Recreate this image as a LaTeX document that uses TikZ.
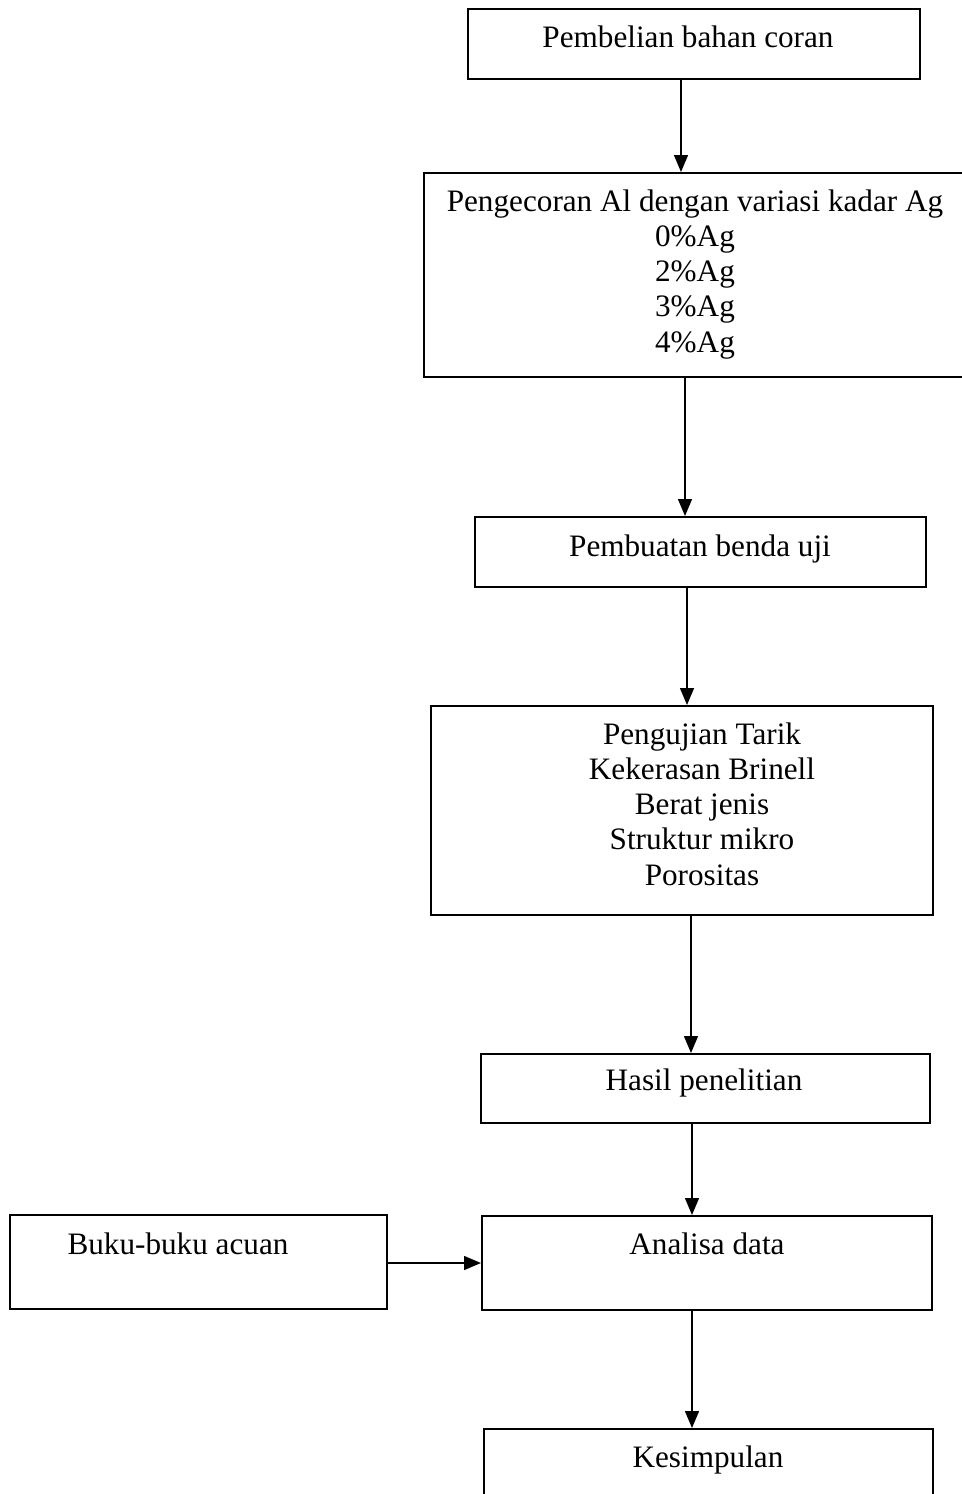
\documentclass[tikz,border=0pt]{standalone}
\usepackage{fontspec}
\setmainfont{Liberation Serif}
\usetikzlibrary{arrows.meta}
\begin{document}
\begin{tikzpicture}[x=0.5pt,y=-0.5pt,
  box/.style={draw, line width=0.8pt, inner sep=0pt, anchor=north west},
  lbl/.style={font=\fontsize{15.6}{17.6}\selectfont, inner sep=0pt, anchor=base, align=center},
  arr/.style={line width=0.7pt, -{Triangle[length=8.5pt,width=7pt]}}]
\useasboundingbox (0,0) rectangle (962,1494);
% boxes
\node[box, minimum width=226pt, minimum height=35pt] (b1) at (467,8) {};
\node[box, minimum width=272pt, minimum height=102pt] (b2) at (423,172) {};
\node[box, minimum width=225.5pt, minimum height=35pt] (b3) at (474,516) {};
\node[box, minimum width=251pt, minimum height=104.5pt] (b4) at (430,705) {};
\node[box, minimum width=224.5pt, minimum height=34.5pt] (b5) at (480,1053) {};
\node[box, minimum width=225pt, minimum height=47pt] (b6) at (481,1215) {};
\node[box, minimum width=188.5pt, minimum height=47pt] (b7) at (9,1214) {};
\node[box, minimum width=224.5pt, minimum height=50pt] (b8) at (483,1428) {};
% texts (multi-line nodes: base = last line's baseline)
\node[lbl] (t1) at (688,47) {Pembelian bahan coran};
\node[lbl] (t2) at (695,352) {Pengecoran Al dengan variasi kadar Ag\\0\%Ag\\2\%Ag\\3\%Ag\\4\%Ag};
\node[lbl] (t3) at (700,556) {Pembuatan benda uji};
\node[lbl] (t4) at (702,885) {Pengujian Tarik\\Kekerasan Brinell\\Berat jenis\\Struktur mikro\\Porositas};
\node[lbl] (t5) at (704,1090) {Hasil penelitian};
\node[lbl] (t6) at (707,1254) {Analisa data};
\node[lbl] (t7) at (178,1254) {Buku-buku acuan};
\node[lbl] (t8) at (708,1467) {Kesimpulan};
% arrow axes
\coordinate (x1) at (681,0);
\coordinate (x2) at (685,0);
\coordinate (x3) at (687,0);
\coordinate (x4) at (691,0);
\coordinate (x5) at (692,0);
\coordinate (x6) at (692,0);
\coordinate (yh) at (0,1263);
\draw[arr] (b1.south -| x1) -- (b2.north -| x1);
\draw[arr] (b2.south -| x2) -- (b3.north -| x2);
\draw[arr] (b3.south -| x3) -- (b4.north -| x3);
\draw[arr] (b4.south -| x4) -- (b5.north -| x4);
\draw[arr] (b5.south -| x5) -- (b6.north -| x5);
\draw[arr] (b6.south -| x6) -- (b8.north -| x6);
\draw[arr] (b7.east |- yh) -- (b6.west |- yh);
\end{tikzpicture}
\end{document}
